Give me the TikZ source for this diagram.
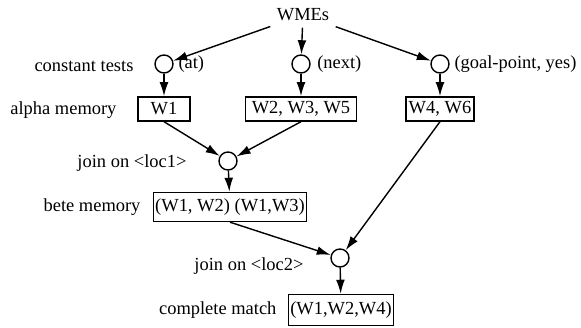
\documentclass[tikz,border=0pt]{standalone}
\usepackage{fontspec}
\setmainfont{Liberation Serif}
\usetikzlibrary{arrows.meta}

\begin{document}
\begin{tikzpicture}[
  font=\fontsize{10.5}{12}\selectfont,
  >={Latex[length=8pt,width=5pt]},
  line width=0.8pt,
  test/.style={draw,circle,minimum size=0.36cm,inner sep=0pt},
  mem/.style={draw,minimum height=0.48cm,inner sep=1pt},
  rowlabel/.style={anchor=east}
]
\useasboundingbox (0,0) rectangle (11.62,6.56);

% Working memory elements
\node (wmes) at (6.06,6.26) {WMEs};

% Constant tests
\node[rowlabel] (ctlabel) at (2.80,5.24) {constant tests};
\node[test,label={[label distance=-1pt]right:(at)}] (c1) at (3.28,5.28) {};
\node[test,label=right:(next)] (c2) at (6.02,5.28) {};
\node[test,label={[label distance=-1pt]right:{(goal-point, yes)}}] (c3) at (8.80,5.28) {};
\draw[->] (wmes) -- (c1);
\draw[->] (wmes) -- (c2);
\draw[->] (wmes) -- (c3);

% Alpha memories
\node[rowlabel] (amlabel) at (2.46,4.36) {alpha memory};
\node[mem,minimum width=1.04cm] (w1) at (3.28,4.38) {W1};
\node[mem,minimum width=2.22cm] (w2) at (6.02,4.38) {W2, W3, W5};
\node[mem,minimum width=1.36cm] (w4) at (8.80,4.38) {W4, W6};
\draw[->] (c1) -- (w1);
\draw[->] (c2) -- (w2);
\draw[->] (c3) -- (w4);

% First join
\node[rowlabel] (j1label) at (3.86,3.30) {join on <loc1>};
\node[test] (j1) at (4.56,3.34) {};
\draw[->] (w1.south) -- (j1);
\draw[->] (w2.south) -- (j1);

% Beta memory
\node[rowlabel] (bmlabel) at (2.94,2.42) {bete memory};
\node[mem,minimum width=3.0cm,minimum height=0.58cm] (bete) at (4.60,2.42) {(W1, W2) (W1,W3)};
\draw[->] (j1) -- (bete);

% Second join
\node[rowlabel] (j2label) at (6.20,1.24) {join on <loc2>};
\node[test] (j2) at (6.80,1.40) {};
\draw[->] (bete.south) -- (j2);
\draw[->] (w4.south) -- (j2);

% Complete match
\node[rowlabel] (cmlabel) at (5.66,0.36) {complete match};
\node[mem,minimum width=2.04cm,minimum height=0.62cm] (match) at (6.82,0.36) {(W1,W2,W4)};
\draw[->] (j2) -- (match);
\end{tikzpicture}
\end{document}
